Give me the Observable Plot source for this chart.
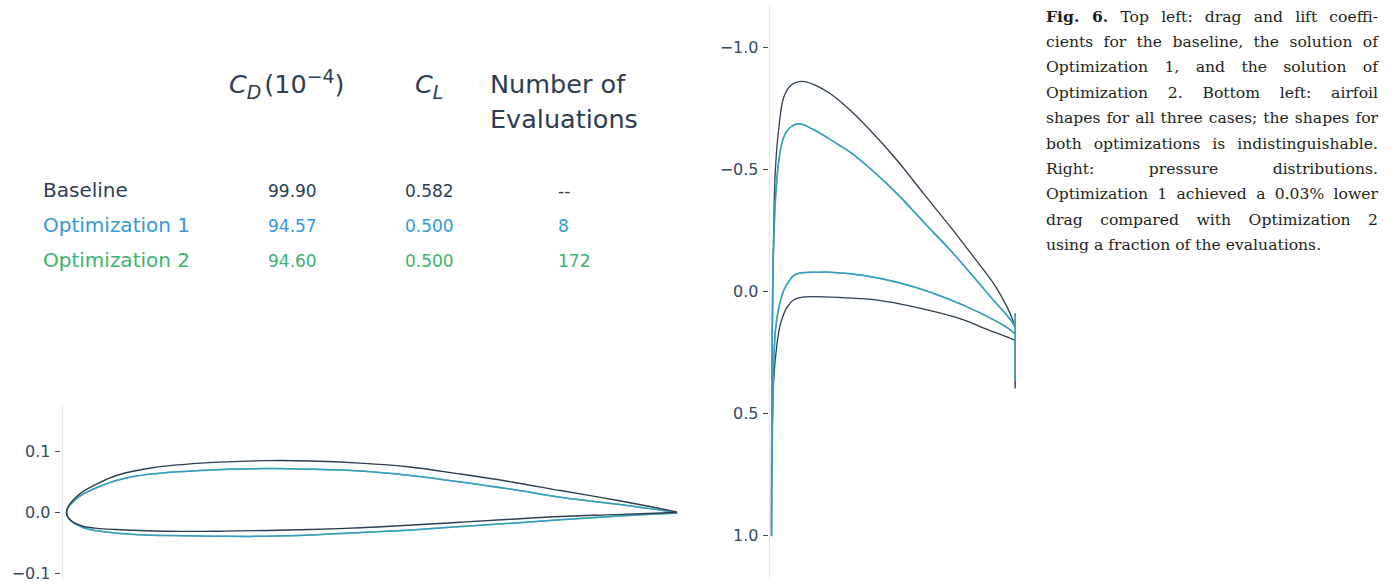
<!DOCTYPE html>
<html>
<head>
<meta charset="utf-8">
<script src="https://cdn.jsdelivr.net/npm/d3@7"></script>
<script src="https://cdn.jsdelivr.net/npm/@observablehq/plot@0.6"></script>
<style>
  html, body { margin: 0; padding: 0; background: #fff; }
  #page { position: relative; width: 1396px; height: 585px; overflow: hidden; font-family: "DejaVu Sans", sans-serif; }
  .abs { position: absolute; white-space: nowrap; line-height: 1; }
  #caption { position: absolute; left: 1046px; top: 3.5px; width: 332px; font-family: "DejaVu Serif", serif; font-size: 15.6px; line-height: 25.4px; color: #231f20; }
  #caption .ln { text-align: justify; text-align-last: justify; white-space: normal; }
  #caption .last { text-align: left; text-align-last: left; }
  #airfoil { position: absolute; left: 0; top: 395px; }
  #cp { position: absolute; left: 700px; top: 0; }
</style>
</head>
<body>
<div id="page">
  <div id="table"></div>
  <div id="airfoil"></div>
  <div id="cp"></div>
  <div id="caption"></div>
</div>
<script>
// ---------------- Table data ----------------
const caseNames = ["Baseline", "Optimization 1", "Optimization 2"];
const caseColors = ["#2c3e50", "#3498db", "#3cb371"];
const dragCoeff = ["99.90", "94.57", "94.60"];     // C_D (10^-4)
const liftCoeff = ["0.582", "0.500", "0.500"];     // C_L
const evaluations = ["--", "8", "172"];            // Number of Evaluations

// ---------------- Airfoil shapes (x/c, y/c), LE -> TE ----------------
const baseUpper = [[0,0],[0.0015,0.007],[0.006,0.0145],[0.0125,0.022],[0.025,0.033],[0.05,0.047],[0.083,0.061],[0.138,0.073],[0.22,0.081],[0.329,0.085],[0.40,0.0845],[0.482,0.081],[0.56,0.075],[0.646,0.063],[0.73,0.050],[0.81,0.036],[0.88,0.024],[0.95,0.011],[1.0,0.001]];
const baseLower = [[0,0],[0.0015,-0.006],[0.0066,-0.013],[0.015,-0.018],[0.028,-0.023],[0.05,-0.026],[0.083,-0.028],[0.13,-0.030],[0.192,-0.031],[0.26,-0.0305],[0.329,-0.0295],[0.40,-0.028],[0.482,-0.025],[0.56,-0.021],[0.646,-0.016],[0.73,-0.011],[0.81,-0.0066],[0.90,-0.0035],[1.0,0]];
// Optimization 1 and 2 shapes are indistinguishable
const optUpper = [[0,0],[0.0015,0.006],[0.005,0.0115],[0.0125,0.019],[0.025,0.029],[0.05,0.041],[0.083,0.053],[0.138,0.063],[0.22,0.069],[0.329,0.072],[0.40,0.071],[0.482,0.068],[0.56,0.061],[0.646,0.050],[0.73,0.038],[0.81,0.025],[0.919,0.0115],[1.0,0]];
const optLower = [[0,0],[0.0015,-0.006],[0.004,-0.010],[0.012,-0.017],[0.028,-0.025],[0.05,-0.030],[0.083,-0.034],[0.13,-0.037],[0.192,-0.038],[0.26,-0.039],[0.329,-0.039],[0.40,-0.037],[0.482,-0.033],[0.56,-0.029],[0.646,-0.023],[0.73,-0.0175],[0.81,-0.012],[0.90,-0.006],[1.0,-0.001]];
const airfoilTicks = [-0.1, 0.0, 0.1];

// ---------------- Pressure distributions (x/c, Cp), LE -> TE ----------------
const cpBaseUpper = [[0,1.0],[0.001,0.60],[0.003,0.20],[0.005,0.01],[0.009,-0.26],[0.016,-0.50],[0.030,-0.67],[0.050,-0.795],[0.080,-0.845],[0.126,-0.861],[0.174,-0.848],[0.242,-0.810],[0.324,-0.742],[0.406,-0.660],[0.516,-0.537],[0.625,-0.400],[0.735,-0.264],[0.830,-0.141],[0.912,-0.032],[0.967,0.064],[0.988,0.112],[1.0,0.146]];
const cpBaseLower = [[0,1.0],[0.001,0.80],[0.003,0.64],[0.009,0.365],[0.021,0.228],[0.037,0.132],[0.064,0.064],[0.09,0.035],[0.126,0.023],[0.242,0.023],[0.447,0.037],[0.652,0.078],[0.789,0.116],[0.871,0.150],[0.95,0.18],[1.0,0.200]];
const cpBaseTE = [[1.0,0.200],[1.0,0.395]];
const cpOptUpper = [[0,1.0],[0.001,0.55],[0.003,0.2],[0.005,-0.02],[0.009,-0.195],[0.016,-0.373],[0.030,-0.537],[0.050,-0.632],[0.08,-0.675],[0.112,-0.687],[0.17,-0.665],[0.242,-0.622],[0.324,-0.570],[0.406,-0.503],[0.516,-0.400],[0.625,-0.284],[0.735,-0.168],[0.830,-0.059],[0.912,0.037],[0.967,0.098],[0.988,0.125],[1.0,0.146]];
const cpOptLower = [[0,1.0],[0.001,0.75],[0.003,0.55],[0.007,0.365],[0.016,0.16],[0.030,0.064],[0.037,0.037],[0.05,-0.004],[0.064,-0.03],[0.092,-0.066],[0.13,-0.077],[0.187,-0.079],[0.242,-0.079],[0.379,-0.066],[0.516,-0.038],[0.652,0.003],[0.789,0.057],[0.912,0.116],[0.97,0.150],[1.0,0.174]];
const cpOptTE = [[1.0,0.091],[1.0,0.365]];
const cpTicks = [-1.0, -0.5, 0.0, 0.5, 1.0];

const captionLines = [
  "<b>Fig. 6.</b> Top left: drag and lift coeffi-",
  "cients for the baseline, the solution of",
  "Optimization 1, and the solution of",
  "Optimization 2. Bottom left: airfoil",
  "shapes for all three cases; the shapes for",
  "both optimizations is indistinguishable.",
  "Right: pressure distributions.",
  "Optimization 1 achieved a 0.03% lower",
  "drag compared with Optimization 2",
  "using a fraction of the evaluations."
];

// ---------------- Table (HTML text) ----------------
const table = document.getElementById("table");
const ink = "#2c3e50";
function addText(html, left, top, size, color, extra) {
  const d = document.createElement("div");
  d.className = "abs";
  d.style.left = left + "px";
  d.style.top = top + "px";
  d.style.fontSize = size + "px";
  d.style.color = color;
  if (extra) Object.assign(d.style, extra);
  d.innerHTML = html;
  table.appendChild(d);
}
const sub = t => `<span style="font-style:italic;font-size:0.74em;position:relative;top:0.3em">${t}</span>`;
const sup = t => `<span style="font-size:0.74em;position:relative;top:-0.55em">${t}</span>`;
addText(`<i>C</i>${sub("D")}<span style="margin-left:3px">(10${sup("−4")})</span>`, 229, 72, 25.5, ink);
addText(`<i>C</i>${sub("L")}`, 415, 72, 25.5, ink);
addText("Number of", 490, 72, 25.5, ink);
addText("Evaluations", 490, 107, 25.5, ink);
caseNames.forEach((name, i) => {
  const c = caseColors[i];
  addText(name, 43, 180 + i * 34.8, 20, c);
  addText(dragCoeff[i], 268, 183.3 + i * 34.6, 17, c);
  addText(liftCoeff[i], 405, 183.3 + i * 34.6, 17, c);
  addText(evaluations[i], 558, 183.3 + i * 34.6, 17, c);
});

// ---------------- Airfoil plot ----------------
const loop = (up, lo) => [...up.slice().reverse(), ...lo.slice(1)].map(([x, y]) => ({x, y}));
const fmt = d3.format(".1f");
const airfoilPlot = Plot.plot({
  width: 700, height: 190,
  marginLeft: 62, marginRight: 20, marginTop: 10, marginBottom: 5,
  style: {fontFamily: "DejaVu Sans", fontSize: "16px", background: "transparent"},
  x: {domain: [-0.0066, 1.0066], axis: null},
  y: {domain: [-0.1115, 0.1754], label: null},
  marks: [
    Plot.frame({anchor: "left", stroke: "#e6e9ec"}),
    Plot.axisY({ticks: airfoilTicks, tickFormat: fmt, tickSize: 5, tickPadding: 5, dx: -2, fontSize: 16, color: "#34495e", label: null}),
    Plot.line(loop(optUpper, optLower), {x: "x", y: "y", stroke: caseColors[2], strokeWidth: 1.5, curve: "catmull-rom"}),
    Plot.line(loop(optUpper, optLower), {x: "x", y: "y", stroke: caseColors[1], strokeOpacity: 0.8, strokeWidth: 1.5, curve: "catmull-rom"}),
    Plot.line(loop(baseUpper, baseLower), {x: "x", y: "y", stroke: caseColors[0], strokeWidth: 1.4, curve: "catmull-rom"})
  ]
});
document.getElementById("airfoil").appendChild(airfoilPlot);

// ---------------- Cp plot ----------------
const pts = arr => arr.map(([x, y]) => ({x, y}));
const cpLoop = (up, lo) => [...up.slice().reverse(), ...lo.slice(1)].map(([x, y]) => ({x, y}));
const cpPlot = Plot.plot({
  width: 330, height: 585,
  marginLeft: 69, marginRight: 10, marginTop: 5, marginBottom: 8,
  style: {fontFamily: "DejaVu Sans", fontSize: "16px", background: "transparent"},
  x: {domain: [-0.0082, 1.0218], axis: null},
  y: {domain: [-1.172, 1.172], reverse: true, label: null},
  marks: [
    Plot.frame({anchor: "left", stroke: "#e6e9ec"}),
    Plot.axisY({ticks: cpTicks, tickFormat: fmt, tickSize: 5, tickPadding: 5, dx: -1, fontSize: 16, color: "#34495e", label: null}),
    Plot.line(pts(cpBaseTE), {x: "x", y: "y", stroke: caseColors[0], strokeWidth: 1.4}),
    Plot.line(cpLoop(cpBaseUpper, cpBaseLower), {x: "x", y: "y", stroke: caseColors[0], strokeWidth: 1.3, curve: "catmull-rom"}),
    Plot.line(pts(cpOptTE), {x: "x", y: "y", stroke: caseColors[2], strokeWidth: 1.5}),
    Plot.line(cpLoop(cpOptUpper, cpOptLower), {x: "x", y: "y", stroke: caseColors[2], strokeWidth: 1.5, curve: "catmull-rom"}),
    Plot.line(pts(cpOptTE), {x: "x", y: "y", stroke: caseColors[1], strokeOpacity: 0.85, strokeWidth: 1.5}),
    Plot.line(cpLoop(cpOptUpper, cpOptLower), {x: "x", y: "y", stroke: caseColors[1], strokeOpacity: 0.8, strokeWidth: 1.5, curve: "catmull-rom"})
  ]
});
document.getElementById("cp").appendChild(cpPlot);

// ---------------- Caption ----------------
const cap = document.getElementById("caption");
captionLines.forEach((t, i) => {
  const d = document.createElement("div");
  d.className = "ln" + (i === captionLines.length - 1 ? " last" : "");
  d.innerHTML = t;
  cap.appendChild(d);
});
</script>
</body>
</html>
